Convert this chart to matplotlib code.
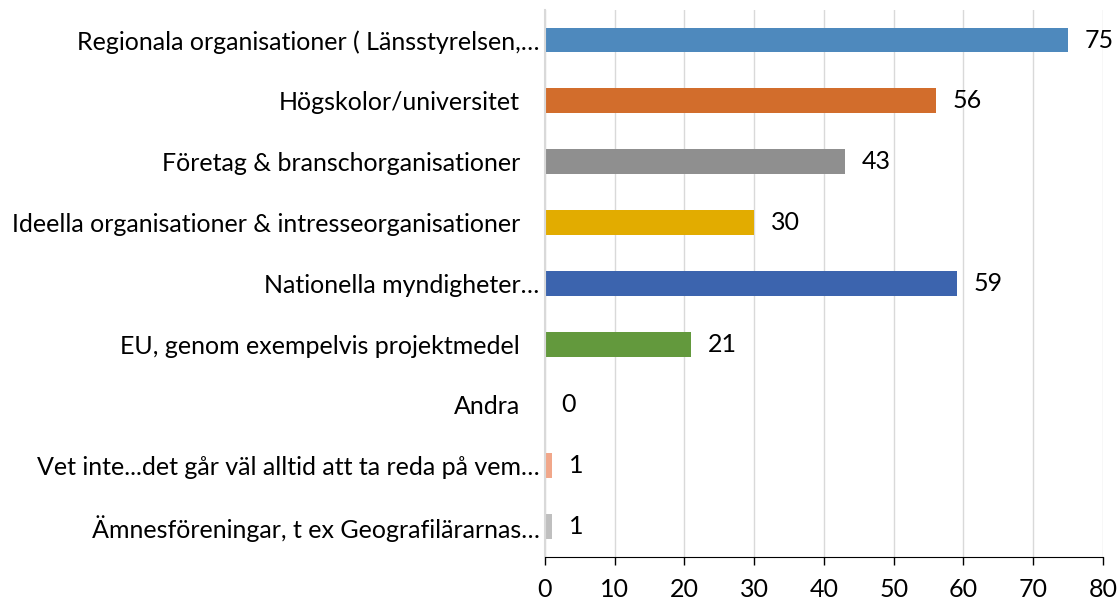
import matplotlib.pyplot as plt

categories = [
    "Regionala organisationer ( Länsstyrelsen,…",
    "Högskolor/universitet",
    "Företag & branschorganisationer",
    "Ideella organisationer & intresseorganisationer",
    "Nationella myndigheter…",
    "EU, genom exempelvis projektmedel",
    "Andra",
    "Vet inte...det går väl alltid att ta reda på vem…",
    "Ämnesföreningar, t ex Geografilärarnas…",
]
values = [75, 56, 43, 30, 59, 21, 0, 1, 1]
colors = ["#4E89BD", "#D26D2C", "#8F8F8F", "#E2AC00", "#3C64AE",
          "#63993D", "#4E89BD", "#F1A78A", "#BFBFBF"]

plt.rcParams["font.family"] = ["Lato", "DejaVu Sans"]
FS = 18

fig = plt.figure(figsize=(11.2, 6.01), dpi=100)
ax = fig.add_axes([0.4866, 0.0732, 0.4982, 0.9108])

y = list(range(len(categories)))
ax.barh(y, values, height=0.41, color=colors, zorder=2)
for yi, v in zip(y, values):
    ax.annotate(str(v), (v, yi), xytext=(12, 0), textcoords="offset points",
                va="center", ha="left", fontsize=FS, color="#000000")

ax.set_ylim(len(categories) - 0.5, -0.5)
ax.set_xlim(0, 80)
ax.set_xticks(range(0, 81, 10))
ax.set_yticks(y)
ax.set_yticklabels(categories, fontsize=FS)
ax.tick_params(axis="y", length=0)
for tick, name in zip(ax.yaxis.get_major_ticks(), categories):
    tick.set_pad(4 if name.endswith("…") else 18)
ax.tick_params(axis="x", labelsize=FS, length=6, width=1, direction="out", pad=9)

ax.grid(axis="x", color="#D9D9D9", linewidth=1, zorder=0)
for side in ["top", "right"]:
    ax.spines[side].set_visible(False)
ax.spines["left"].set_color("#D9D9D9")
ax.spines["left"].set_linewidth(1.5)
ax.spines["bottom"].set_color("#000000")

fig.savefig("out.png", dpi=100)
